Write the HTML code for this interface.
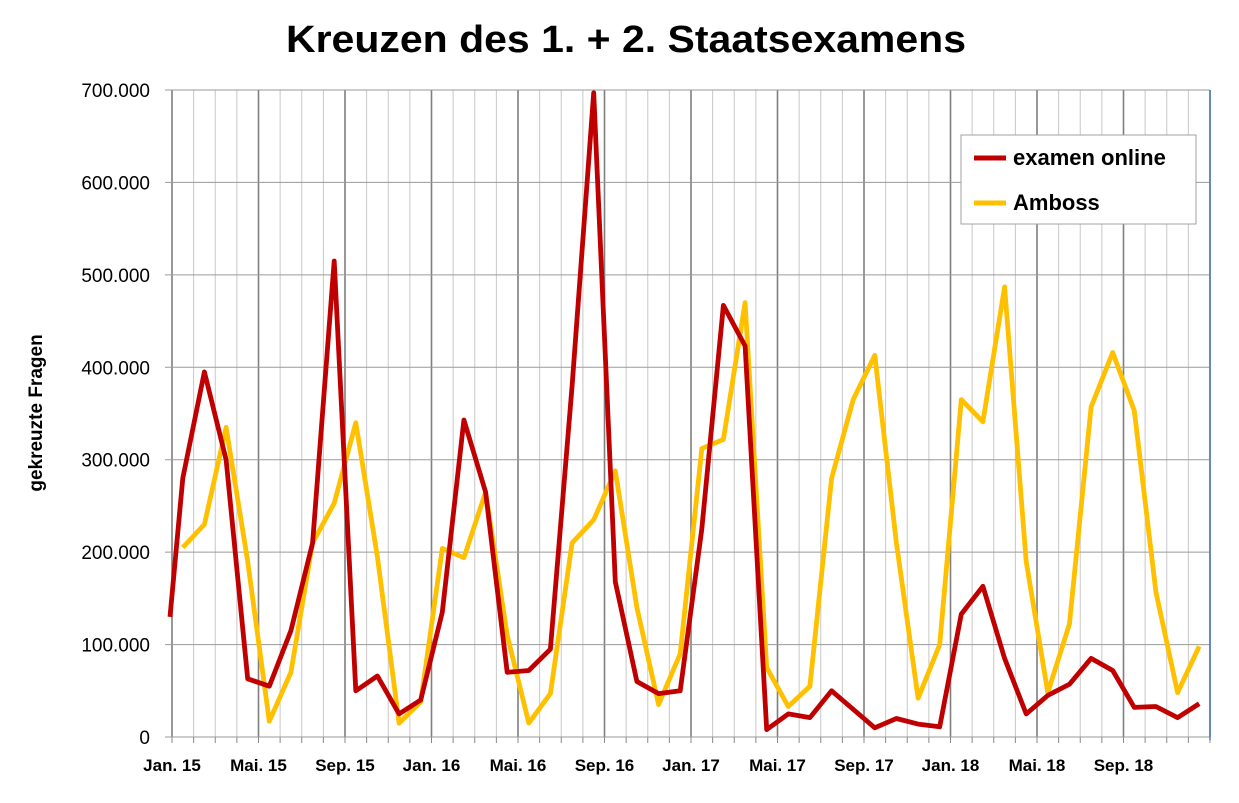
<!DOCTYPE html>
<html><head><meta charset="utf-8"><style>
body{margin:0;background:#fff;width:1239px;height:798px;overflow:hidden}
text{font-family:"Liberation Sans",Arial,sans-serif}
</style></head><body>
<svg id="s" width="1239" height="798" xmlns="http://www.w3.org/2000/svg">
<text x="626" y="52" text-anchor="middle" font-size="38" font-weight="bold" fill="#000" textLength="680" lengthAdjust="spacingAndGlyphs">Kreuzen des 1. + 2. Staatsexamens</text>
<text transform="translate(42,413) rotate(-90)" text-anchor="middle" font-size="19" font-weight="bold">gekreuzte Fragen</text>
<g id="g"></g>
<rect x="961" y="135" width="235" height="89" fill="#fff" stroke="#a0a0a0" stroke-width="1"/>
<line x1="974" y1="158" x2="1006" y2="158" stroke="#c00000" stroke-width="5"/>
<text x="1013" y="165" font-size="22" font-weight="bold">examen online</text>
<line x1="974" y1="203" x2="1006" y2="203" stroke="#ffc000" stroke-width="5"/>
<text x="1013" y="210" font-size="22" font-weight="bold">Amboss</text>
</svg>
<script>
var g=document.getElementById('g'),h='';
var X0=172,X1=1210,Y0=737,k=(737-90)/700,m=(X1-X0)/48;
function y(v){return Y0-v*k}
for(var i=0;i<=48;i++){var x=X0+i*m;var d=i%4==0;
h+='<line x1="'+x+'" y1="90" x2="'+x+'" y2="737" stroke="'+(d?'#7f7f7f':'#c8c8c8')+'" stroke-width="'+(d?1.6:1)+'"/>';
h+='<line x1="'+x+'" y1="737" x2="'+x+'" y2="743" stroke="#888"/>';}
for(var v=0;v<=700;v+=100){var yy=y(v);
h+='<line x1="165" y1="'+yy+'" x2="1210" y2="'+yy+'" stroke="#9a9a9a" stroke-width="1"/>';
h+='<text x="150" y="'+(yy+7)+'" text-anchor="end" font-size="19">'+(v==0?'0':v/100+'00.000')+'</text>';}
h+='<line x1="1210" y1="90" x2="1210" y2="740" stroke="#4a7ebb" stroke-width="1.5"/>';
var labs=['Jan. 15','Mai. 15','Sep. 15','Jan. 16','Mai. 16','Sep. 16','Jan. 17','Mai. 17','Sep. 17','Jan. 18','Mai. 18','Sep. 18'];
for(var j=0;j<12;j++)h+='<text x="'+(X0+j*4*m)+'" y="771" text-anchor="middle" font-size="17" font-weight="bold">'+labs[j]+'</text>';
var R=[280,395,300,63,55,115,210,515,50,66,25,40,135,343,265,70,72,95,380,697,168,60,47,50,225,467,423,8,25,21,50,30,10,20,14,11,133,163,85,25,45,57,85,72,32,33,21,36];
var A=[205,230,335,190,17,70,210,253,340,195,15,38,204,194,265,110,15,47,210,235,288,140,35,90,312,322,470,75,33,55,280,365,413,210,42,100,365,341,487,190,48,122,357,416,353,157,48,98];
function pl(a,c,pre){var p=pre||'';for(var i=0;i<a.length;i++)p+=(X0+m/2+i*m).toFixed(1)+','+y(a[i]).toFixed(1)+' ';
return '<polyline points="'+p+'" fill="none" stroke="'+c+'" stroke-width="4.8" stroke-linejoin="round"/>';}
h+=pl(A,'#ffc000');
h+=pl(R,'#c00000','170,'+y(130)+' ');
g.innerHTML=h;
</script>
</body></html>
